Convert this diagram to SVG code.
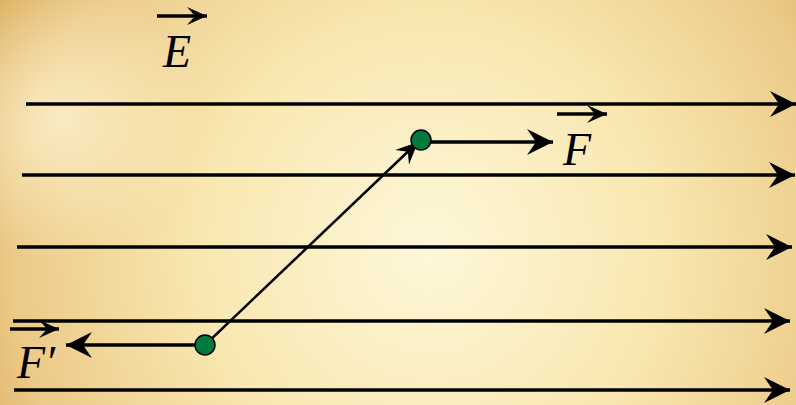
<svg xmlns="http://www.w3.org/2000/svg" width="796" height="405" viewBox="0 0 796 405">
<defs>
<radialGradient id="bg" cx="430" cy="250" r="520" gradientUnits="userSpaceOnUse">
<stop offset="0" stop-color="#fef7d9"/>
<stop offset="0.45" stop-color="#f8e7b0"/>
<stop offset="0.8" stop-color="#ecca88"/>
<stop offset="1" stop-color="#d9a955"/>
</radialGradient>
<radialGradient id="spot" cx="60" cy="120" r="140" gradientUnits="userSpaceOnUse">
<stop offset="0" stop-color="#fdf2cf" stop-opacity="0.8"/>
<stop offset="1" stop-color="#fdf2cf" stop-opacity="0"/>
</radialGradient>
<marker id="ah" markerUnits="userSpaceOnUse" markerWidth="30" markerHeight="30" viewBox="-28 -15 30 30" refX="0" refY="0" orient="auto">
<path d="M0,0 L-26,-13 L-17,0 L-26,13 Z" fill="#000"/>
</marker>
<marker id="ahs" markerUnits="userSpaceOnUse" markerWidth="24" markerHeight="24" viewBox="-22 -11 24 22" refX="0" refY="0" orient="auto">
<path d="M0,0 L-20,-9 L-12,0 L-20,9 Z" fill="#000"/>
</marker>
<marker id="ahd" markerUnits="userSpaceOnUse" markerWidth="26" markerHeight="26" viewBox="-24 -12 26 24" refX="0" refY="0" orient="auto">
<path d="M0,0 L-22,-10 L-14,0 L-22,10 Z" fill="#000"/>
</marker>
</defs>
<style>
.fl{stroke:#000;stroke-width:3.5;fill:none;marker-end:url(#ah)}
.vec{stroke:#000;stroke-width:3.5;fill:none;marker-end:url(#ahs)}
.lbl{font-family:"Liberation Serif",serif;font-style:italic;font-size:46px;fill:#000}
.dot{fill:#007a3d;stroke:#000;stroke-width:1.5}
</style>
<rect width="796" height="405" fill="url(#bg)"/>
<rect width="796" height="405" fill="url(#spot)"/>
<g id="connectors">
<line class="fl" x1="26" y1="104" x2="796" y2="104"/>
<line class="fl" x1="22" y1="175" x2="795" y2="175"/>
<line class="fl" x1="17" y1="247" x2="792" y2="247"/>
<line class="fl" x1="13" y1="321" x2="790" y2="321"/>
<line class="fl" x1="14" y1="390" x2="790" y2="390"/>
<line x1="205" y1="345" x2="418" y2="142" stroke="#000" stroke-width="2.5" marker-end="url(#ahd)"/>
<line class="fl" x1="421" y1="142" x2="553" y2="142"/>
<line class="fl" x1="205" y1="345" x2="66" y2="345"/>
</g>
<g id="label-E">
<line class="vec" x1="157" y1="16" x2="207" y2="16"/>
<text class="lbl" x="163" y="67">E</text>
</g>
<g id="label-F">
<line class="vec" x1="557" y1="114" x2="607" y2="114"/>
<text class="lbl" x="563" y="165">F</text>
</g>
<g id="label-Fprime">
<line class="vec" x1="10" y1="329" x2="59" y2="329"/>
<text class="lbl" x="17" y="378">F′</text>
</g>
<g id="charge-pos"><circle class="dot" cx="421" cy="140" r="10"/></g>
<g id="charge-neg"><circle class="dot" cx="205" cy="345" r="10"/></g>
</svg>
